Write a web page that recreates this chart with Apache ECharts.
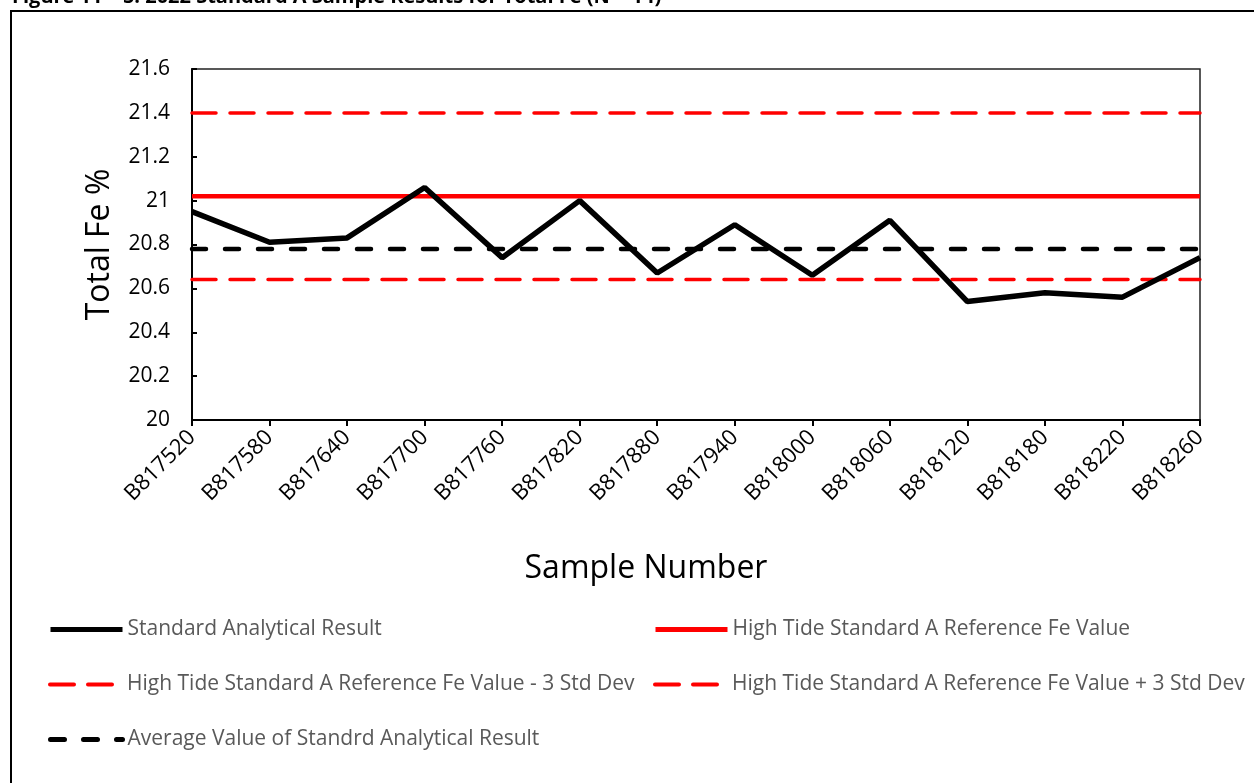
<!DOCTYPE html>
<html>
<head>
<meta charset="utf-8">
<script src="https://cdn.jsdelivr.net/npm/echarts@6/dist/echarts.min.js"></script>
<style>
  html, body { margin: 0; padding: 0; background: #fff; }
  #chart { width: 1254px; height: 783px; }
</style>
</head>
<body>
<div id="chart"></div>
<script>
  // sample numbers on the x axis
  const samples = ['B817520', 'B817580', 'B817640', 'B817700', 'B817760', 'B817820', 'B817880',
    'B817940', 'B818000', 'B818060', 'B818120', 'B818180', 'B818220', 'B818260'];
  // Total Fe % per sample
  const feValues = [20.95, 20.81, 20.83, 21.06, 20.74, 21.00, 20.67, 20.89, 20.66, 20.91, 20.54, 20.58, 20.56, 20.74];
  // reference lines
  const refValue = 21.02;
  const refMinus3sd = 20.64;
  const refPlus3sd = 21.40;
  const avgValue = 20.78;

  const font = 'Open Sans';
  const flat = v => samples.map(() => v);  // constant line across all samples
  const noDot = { color: 'rgba(0,0,0,0)' }; // hide the legend symbol dot

  const names = {
    std: 'Standard Analytical Result',
    ref: 'High Tide Standard A Reference Fe Value',
    minus: 'High Tide Standard A Reference Fe Value - 3 Std Dev',
    plus: 'High Tide Standard A Reference Fe Value + 3 Std Dev',
    avg: 'Average Value of Standrd Analytical Result'
  };

  function legendAt(name, left, top, w) {
    return {
      data: [{ name: name, lineStyle: { width: w } }],
      left: left,
      top: top,
      padding: 0,
      itemWidth: 72,
      itemHeight: 14,
      selectedMode: false,
      textStyle: { color: '#595959', fontSize: 21, fontFamily: font }
    };
  }

  const chart = echarts.init(document.getElementById('chart'));
  const option = {
    animation: false,
    graphic: [
      {
        type: 'text', left: 12, top: -13, z: 10,
        style: { text: 'Figure 11 – 5: 2022 Standard A Sample Results for Total Fe (N = 14)',
          fontSize: 20, fontWeight: 'bold', fontFamily: font, fill: '#000' }
      },
      {
        type: 'rect', shape: { x: 11, y: 11, width: 1260, height: 800 },
        style: { fill: 'none', stroke: '#000', lineWidth: 2 }
      }
    ],
    legend: [
      legendAt(names.std, 48, 619, 5),
      legendAt(names.ref, 653, 619, 5),
      legendAt(names.minus, 48, 674, 4),
      legendAt(names.plus, 653, 674, 4),
      legendAt(names.avg, 48, 729, 5)
    ],
    grid: {
      left: 192, right: 54, top: 69, bottom: 363,
      show: true, borderColor: '#222', borderWidth: 1.5
    },
    xAxis: {
      type: 'category',
      data: samples,
      boundaryGap: false,
      name: 'Sample Number',
      nameLocation: 'middle',
      nameGap: 133,
      nameTextStyle: { fontSize: 32, fontFamily: font, color: '#000', padding: [0, 100, 0, 0] },
      axisLine: { lineStyle: { color: '#000', width: 2 } },
      axisTick: { show: true, length: 6, lineStyle: { color: '#000', width: 2 } },
      axisLabel: { rotate: 45, fontSize: 22, fontFamily: font, color: '#000', margin: 14 },
      splitLine: { show: false }
    },
    yAxis: {
      type: 'value',
      min: 20,
      max: 21.6,
      interval: 0.2,
      name: 'Total Fe %',
      nameLocation: 'middle',
      nameGap: 76,
      nameTextStyle: { fontSize: 32, fontFamily: font, color: '#000' },
      axisLine: { show: true, lineStyle: { color: '#000', width: 2 } },
      axisTick: { show: true, inside: true, length: 5, lineStyle: { color: '#000', width: 2 } },
      axisLabel: { fontSize: 21, fontFamily: font, color: '#000', margin: 22 },
      splitLine: { show: false }
    },
    series: [
      {
        name: names.ref, type: 'line', data: flat(refValue), symbol: 'none',
        lineStyle: { color: '#ff0000', width: 4.5 }, itemStyle: noDot
      },
      {
        name: names.plus, type: 'line', data: flat(refPlus3sd), symbol: 'none',
        lineStyle: { color: '#ff0000', width: 3.5, type: [24, 14], cap: 'round' }, itemStyle: noDot
      },
      {
        name: names.minus, type: 'line', data: flat(refMinus3sd), symbol: 'none',
        lineStyle: { color: '#ff0000', width: 3.5, type: [24, 14], cap: 'round' }, itemStyle: noDot
      },
      {
        name: names.avg, type: 'line', data: flat(avgValue), symbol: 'none',
        lineStyle: { color: '#000', width: 4.5, type: [14, 19], cap: 'round' }, itemStyle: noDot
      },
      {
        name: names.std, type: 'line', data: feValues, symbol: 'none', z: 5,
        lineStyle: { color: '#000', width: 5.5 }, itemStyle: noDot
      }
    ]
  };
  chart.setOption(option);
</script>
</body>
</html>
